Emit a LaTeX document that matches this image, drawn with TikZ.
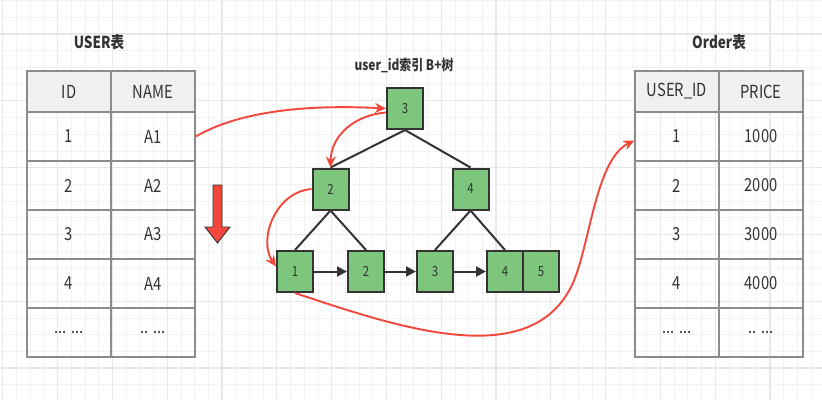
\documentclass[tikz,border=0pt]{standalone}
\usepackage{fontspec}
\usepackage{graphicx}
\setmainfont{Noto Sans CJK SC}
\usetikzlibrary{arrows.meta,calc}
\definecolor{gminorc}{HTML}{F2F2F2}
\definecolor{gstrongc}{HTML}{E8E8E8}
\definecolor{tblc}{HTML}{8C8C8C}
\definecolor{hdrc}{HTML}{F0F0F0}
\definecolor{txtc}{HTML}{333333}
\definecolor{greenc}{HTML}{7EC67E}
\definecolor{darkc}{HTML}{333333}
\definecolor{redc}{HTML}{F2473A}
\newcommand{\sq}[1]{\scalebox{0.82}[1]{#1}}
\tikzset{
  gminor/.style={draw=gminorc, line width=0.8pt},
  gstrong/.style={draw=gstrongc, line width=1.1pt},
  cell/.style={draw=tblc, line width=1.4pt, minimum width=84pt, minimum height=49pt, inner sep=0pt, text=txtc, font=\fontsize{18}{20}\selectfont},
  hcell/.style={cell, fill=hdrc, minimum height=41pt},
  title/.style={text=txtc, inner sep=0pt, font=\bfseries\fontsize{16.5}{19}\selectfont},
  tnode/.style={draw=darkc, fill=greenc, line width=2pt, minimum width=36pt, minimum height=41pt, inner sep=0pt, text=txtc, font=\fontsize{14}{16}\selectfont},
  tedge/.style={draw=darkc, line width=2pt},
  larrow/.style={draw=darkc, line width=2pt, -{Triangle[length=10pt,width=10pt]}},
  rarrow/.style={draw=redc, line width=1.9pt, -{Stealth[length=11pt,width=10pt]}},
}
\begin{document}
\begin{tikzpicture}[x=1pt,y=-1pt]
\useasboundingbox (0,0) rectangle (822,407);
\fill[white] (0,0) rectangle (822,407);
% grid
\foreach \k in {0,...,59}{
  \pgfmathsetmacro\xx{2.8+13.7*\k}
  \pgfmathtruncatemacro\m{mod(\k,4)}
  \ifnum\m=0 \draw[gstrong] (\xx,0) -- (\xx,400); \else \draw[gminor] (\xx,0) -- (\xx,400); \fi
}
\foreach \k in {0,...,23}{
  \pgfmathsetmacro\yy{0.6+16.7*\k}
  \pgfmathtruncatemacro\m{mod(\k,4)}
  \ifnum\m=2 \draw[gstrong] (0,\yy) -- (822,\yy); \else \draw[gminor] (0,\yy) -- (822,\yy); \fi
}
% titles
\node[title] (ut) at (99,42) {\sq{USER表}};
\node[title] (ot) at (719,42) {\sq{Order表}};
\node[title, font=\bfseries\fontsize{14.5}{16}\selectfont] (bt) at (404,65) {\sq{user\_id索引 B+树}};
% USER table
\node[hcell] (uh1) at (69,91.5) {\sq{ID}};
\node[hcell] (uh2) at (153,91.5) {\sq{NAME}};
\node[cell] (u11) at (69,136.5) {\sq{1}};
\node[cell] (u12) at (153,136.5) {\sq{A1}};
\node[cell] (u21) at (69,185.5) {\sq{2}};
\node[cell] (u22) at (153,185.5) {\sq{A2}};
\node[cell] (u31) at (69,234.5) {\sq{3}};
\node[cell] (u32) at (153,234.5) {\sq{A3}};
\node[cell] (u41) at (69,283.5) {\sq{4}};
\node[cell] (u42) at (153,283.5) {\sq{A4}};
\node[cell] (u51) at (69,332.5) {\sq{... ...}};
\node[cell] (u52) at (153,332.5) {\sq{.. ...}};
% Order table
\node[hcell] (oh1) at (677,91.5) {\sq{USER\_ID}};
\node[hcell] (oh2) at (761,91.5) {\sq{PRICE}};
\node[cell] (o11) at (677,136.5) {\sq{1}};
\node[cell] (o12) at (761,136.5) {\sq{1000}};
\node[cell] (o21) at (677,185.5) {\sq{2}};
\node[cell] (o22) at (761,185.5) {\sq{2000}};
\node[cell] (o31) at (677,234.5) {\sq{3}};
\node[cell] (o32) at (761,234.5) {\sq{3000}};
\node[cell] (o41) at (677,283.5) {\sq{4}};
\node[cell] (o42) at (761,283.5) {\sq{4000}};
\node[cell] (o51) at (677,332.5) {\sq{... ...}};
\node[cell] (o52) at (761,332.5) {\sq{.. ...}};
% down arrow
\draw[draw=darkc, fill=redc, line width=0.9pt] (213,185) -- (222,185) -- (222,227) -- (230,227) -- (217.5,243) -- (205,227) -- (213,227) -- cycle;
% tree
\node[tnode] (t3) at (405,108.5) {\sq{3}};
\node[tnode] (t2) at (330.5,189) {\sq{2}};
\node[tnode] (t4) at (470.5,189) {\sq{4}};
\node[tnode] (l1) at (295,271.5) {\sq{1}};
\node[tnode] (l2) at (366,271.5) {\sq{2}};
\node[tnode] (l3) at (435,271.5) {\sq{3}};
\node[tnode] (l4) at (505,271.5) {\sq{4}};
\node[tnode] (l5) at (541,271.5) {\sq{5}};
\draw[tedge] (t3.south) -- (t2.north);
\draw[tedge] (t3.south) -- (t4.north);
\draw[tedge] (t2.south) -- (l1.north);
\draw[tedge] (t2.south) -- (l2.north);
\draw[tedge] (t4.south) -- (l3.north);
\draw[tedge] (t4.south) -- (l4.north);
\draw[larrow] (l1.east) -- (l2.west);
\draw[larrow] (l2.east) -- (l3.west);
\draw[larrow] (l3.east) -- (l4.west);
% red arrows
\draw[rarrow] (u12.east) .. controls (245,108) and (320,105) .. (t3.west);
\draw[rarrow] ($(t3.west)+(0,4)$) .. controls (355,115) and (331,135) .. (t2.north);
\draw[rarrow] (t2.west) .. controls (275,192) and (258,240) .. ($(l1.west)+(0,-5)$);
\draw[rarrow] (l1.south) .. controls (400,328) and (530,372) .. (572,285) .. controls (590,247) and (595,160) .. ($(o11.west)+(0,4)$);
\end{tikzpicture}
\end{document}
